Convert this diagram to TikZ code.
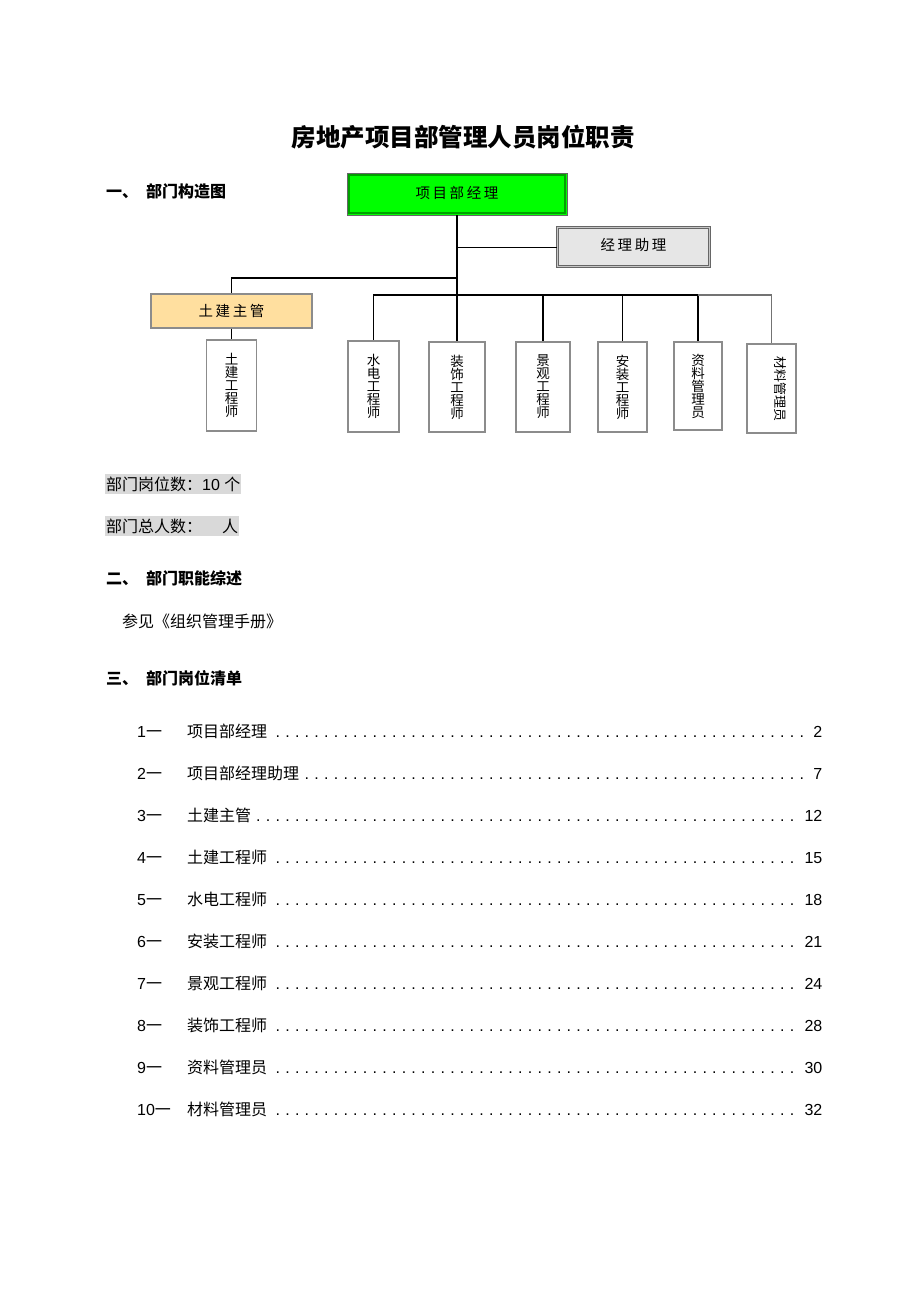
\documentclass[tikz,border=0pt]{standalone}
\usepackage{fontspec}
\usepackage{graphicx}
\setmainfont{Noto Sans CJK SC}
\newfontfamily\lat{Liberation Sans}
\newfontfamily\boxfont[LetterSpace=18]{Noto Sans CJK SC}

\definecolor{pmgreen}{HTML}{00FF00}
\definecolor{pmedge}{HTML}{00A000}
\definecolor{asstfill}{HTML}{E6E6E6}
\definecolor{tjfill}{HTML}{FFDF9F}
\definecolor{boxgray}{HTML}{8C8C8C}
\definecolor{hlgray}{HTML}{D9D9D9}

\tikzset{
  pmbox/.style={draw=gray!80!black, line width=0.9pt, fill=pmgreen, minimum width=220pt, minimum height=42pt, inner sep=0pt, font=\boxfont\fontsize{14.5}{14.5}\selectfont},
  asstbox/.style={draw=gray!80!black, double=gray!45, line width=0.7pt, double distance=1.4pt, fill=asstfill, minimum width=152pt, minimum height=39pt, inner sep=0pt, font=\boxfont\fontsize{14.5}{14.5}\selectfont},
  tjbox/.style={draw=boxgray, line width=1.4pt, fill=tjfill, minimum width=161pt, minimum height=34pt, inner sep=0pt, font=\boxfont\fontsize{14.5}{14.5}\selectfont},
  colbox/.style 2 args={draw=boxgray, line width=1.4pt, fill=white, minimum width=#1, minimum height=#2, inner sep=0pt, align=center, font=\fontsize{13.5}{13}\selectfont},
  mainline/.style={line width=1.8pt, black},
  midline/.style={line width=1.4pt, black},
  thinline/.style={line width=0.9pt, black},
  grayline/.style={line width=1.2pt, gray!90!black},
  heading/.style={anchor=west, inner sep=0pt, font=\fontsize{16}{16}\selectfont\bfseries},
  bodytext/.style={anchor=west, inner sep=0pt, font=\fontsize{16}{16}\selectfont},
  hlnode/.style={anchor=west, fill=hlgray, inner xsep=1pt, inner ysep=2.5pt, font=\fontsize{16}{16}\selectfont},
  listrow/.style={anchor=west, inner sep=0pt, font=\fontsize{16}{16}\selectfont}
}

\begin{document}
\begin{tikzpicture}[x=1pt, y=-1pt]
\useasboundingbox (0,0) rectangle (920,1302);

% Title and headings
\node[font=\fontsize{24.5}{24.5}\selectfont\bfseries] (title) at (463,137) {房地产项目部管理人员岗位职责};
\node[heading] (h1) at (106,191) {一、\hspace{8pt}部门构造图};

% Org chart boxes
\node[pmbox] (pm) at (457,194) {\raisebox{4pt}{项目部经理}};
\draw[line width=1.6pt, pmedge] ([shift={(2.2,2.2)}]pm.north west) rectangle ([shift={(-2.2,-2.2)}]pm.south east);
\node[asstbox] (asst) at (633.5,247) {\raisebox{5pt}{经理助理}};
\node[tjbox] (tjzg) at (231.5,311) {土建主管};

\node[colbox={50pt}{91pt}] (tjgcs) at (231.5,385.5) {土\\建\\工\\程\\师};
\node[colbox={51pt}{91pt}] (sd) at (373.5,386.5) {水\\电\\工\\程\\师};
\node[colbox={56pt}{90pt}] (zs) at (457,387) {装\\饰\\工\\程\\师};
\node[colbox={54pt}{90pt}] (jg) at (543,387) {景\\观\\工\\程\\师};
\node[colbox={49pt}{90pt}] (az) at (622.5,387) {安\\装\\工\\程\\师};
\node[colbox={48pt}{88pt}] (zl) at (698,386) {资\\料\\管\\理\\员};
\node[colbox={49pt}{89pt}] (cl) at (771.5,388.5) {\hspace*{17pt}\rotatebox{-90}{\fontsize{13}{13}\selectfont 材料管理员}};

% Connectors
\coordinate (split) at (457,278);
\coordinate (hub) at (457,295);
\draw[mainline] (pm.south) -- (hub);
\draw[thinline] (pm.south |- asst.west) -- (asst.west);
\draw[midline] (split) -| (tjzg.north);
\draw[midline] (tjzg.south) -- (tjgcs.north);
\draw[mainline] (hub) -| (sd.north);
\draw[mainline] (hub) -- (zs.north);
\draw[mainline] (hub) -| (jg.north);
\draw[mainline] (hub) -| (az.north);
\draw[mainline] (hub) -| (zl.north);
\draw[grayline] (zl.north |- hub) -| (cl.north);

% Text blocks
\node[hlnode] (posts) at (105,484) {部门岗位数：{\lat 10 }个};
\node[hlnode] (staff) at (105,526) {部门总人数：\hspace{20pt}人};
\node[heading] (h2) at (106,578) {二、\hspace{8pt}部门职能综述};
\node[bodytext] (ref) at (122,621) {参见《组织管理手册》};
\node[heading] (h3) at (106,678) {三、\hspace{8pt}部门岗位清单};

% Post list
\foreach \n/\name/\pg [count=\i from 0] in {1/项目部经理/2, 2/项目部经理助理/7, 3/土建主管/12, 4/土建工程师/15, 5/水电工程师/18, 6/安装工程师/21, 7/景观工程师/24, 8/装饰工程师/28, 9/资料管理员/30, 10/材料管理员/32}
  \node[listrow] (row\n) at (137,{731+42.05*\i}) {\hbox to 685pt{\hbox to 50pt{{\lat\n}一\hss}\name\leaders\hbox to 9.7pt{\hss\lat.\hss}\hfill{\lat\pg}}};
\end{tikzpicture}
\end{document}
